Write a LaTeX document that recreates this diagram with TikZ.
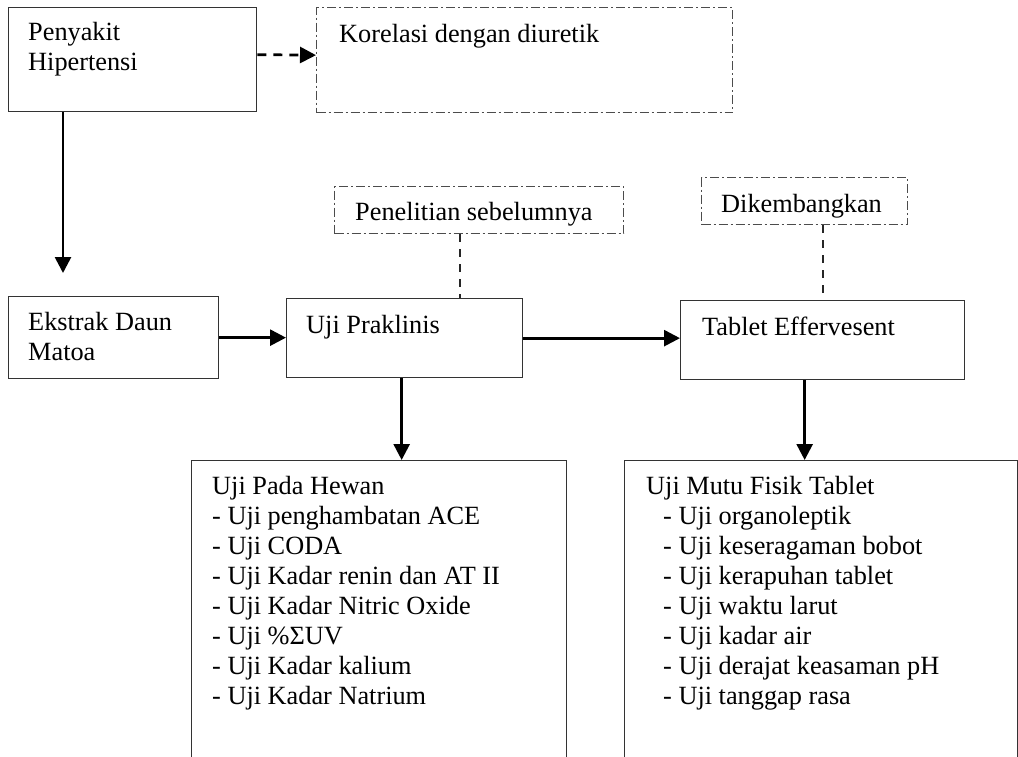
\documentclass[tikz,border=0pt]{standalone}
\usepackage{fontspec}
\setmainfont{Liberation Serif}
\usetikzlibrary{arrows.meta,positioning}
\tikzset{
	kotak/.style={draw=black!80, line width=1.3pt, rectangle, inner sep=0pt, anchor=north west},
	kotakputus/.style={kotak, draw=black!70, dash pattern=on 9pt off 3pt on 2pt off 3pt},
	teks/.style={inner sep=0pt, anchor=base west, align=left, font=\fontsize{26.3}{30}\selectfont},
	panah/.style={line width=2.7pt, -{Triangle[length=16pt,width=16pt]}},
	panahputus/.style={panah, dash pattern=on 9pt off 7pt},
	garisputus/.style={line width=1.8pt, draw=black!85, dash pattern=on 8pt off 7pt},
}
\begin{document}
\begin{tikzpicture}[x=1pt,y=-1pt]
		\useasboundingbox (0,0) rectangle (1018,757);
		\clip (0,0) rectangle (1018,757);
		% baris atas
		\node[kotak, minimum width=248, minimum height=104] (hipertensi) at (8,7) {};
		\node[kotakputus, minimum width=416, minimum height=105] (korelasi) at (316,7) {};
		\node[teks] (thipertensi) at ([shift={(20,64)}]hipertensi.north west) {Penyakit\\Hipertensi};
		\node[teks] (tkorelasi) at ([shift={(23,36)}]korelasi.north west) {Korelasi dengan diuretik};
		% keterangan
		\node[kotakputus, minimum width=289, minimum height=47] (penelitian) at (334,186) {};
		\node[kotakputus, minimum width=206, minimum height=47] (dikembangkan) at (701,177) {};
		\node[teks] (tpenelitian) at ([shift={(21,34)}]penelitian.north west) {Penelitian sebelumnya};
		\node[teks] (tdikembangkan) at ([shift={(20,35)}]dikembangkan.north west) {Dikembangkan};
		% baris tengah
		\node[kotak, minimum width=210, minimum height=82] (ekstrak) at (8,296) {};
		\node[kotak, minimum width=236, minimum height=79] (praklinis) at (286,298) {};
		\node[kotak, minimum width=284, minimum height=79] (tablet) at (680,300) {};
		\node[teks] (tekstrak) at ([shift={(20,64)}]ekstrak.north west) {Ekstrak Daun\\Matoa};
		\node[teks] (tpraklinis) at ([shift={(20,35)}]praklinis.north west) {Uji Praklinis};
		\node[teks] (ttablet) at ([shift={(22,35)}]tablet.north west) {Tablet Effervesent};
		% baris bawah
		\node[kotak, minimum width=375, minimum height=320] (hewan) at (191,460) {};
		\node[kotak, minimum width=393, minimum height=320] (mutu) at (624,460) {};
		\node[teks] (thewan) at ([shift={(21,244)}]hewan.north west) {Uji Pada Hewan\\- Uji penghambatan ACE\\- Uji CODA\\- Uji Kadar renin dan AT II\\- Uji Kadar Nitric Oxide\\- Uji \%ΣUV\\- Uji Kadar kalium\\- Uji Kadar Natrium};
		\node[teks] (tmutu) at ([shift={(22,34)}]mutu.north west) {Uji Mutu Fisik Tablet};
		\node[teks] (daftarmutu) at ([shift={(39,244)}]mutu.north west) {- Uji organoleptik\\- Uji keseragaman bobot\\- Uji kerapuhan tablet\\- Uji waktu larut\\- Uji kadar air\\- Uji derajat keasaman pH\\- Uji tanggap rasa};
		% panah
		\coordinate (ujungpanah) at (63,273);
		\draw[panahputus] ([yshift=5pt]hipertensi.east) -- ([yshift=5pt]korelasi.west);
		\draw[panah] (hipertensi.south -| ujungpanah) -- (ujungpanah);
		\draw[panah] (ekstrak.east) -- (ekstrak.east -| praklinis.west);
		\draw[panah] (praklinis.east) -- (praklinis.east -| tablet.west);
		\draw[garisputus] ([xshift=-19.5pt]penelitian.south) -- ([xshift=-19.5pt]penelitian.south |- praklinis.north);
		\draw[garisputus] (dikembangkan.south -| tablet.north) -- (tablet.north);
		\draw[panah] ([xshift=-3pt]praklinis.south) -- ([xshift=-3pt]praklinis.south |- hewan.north);
		\draw[panah] ([xshift=-18pt]tablet.south) -- ([xshift=-18pt]tablet.south |- mutu.north);
	\end{tikzpicture}
\end{document}
